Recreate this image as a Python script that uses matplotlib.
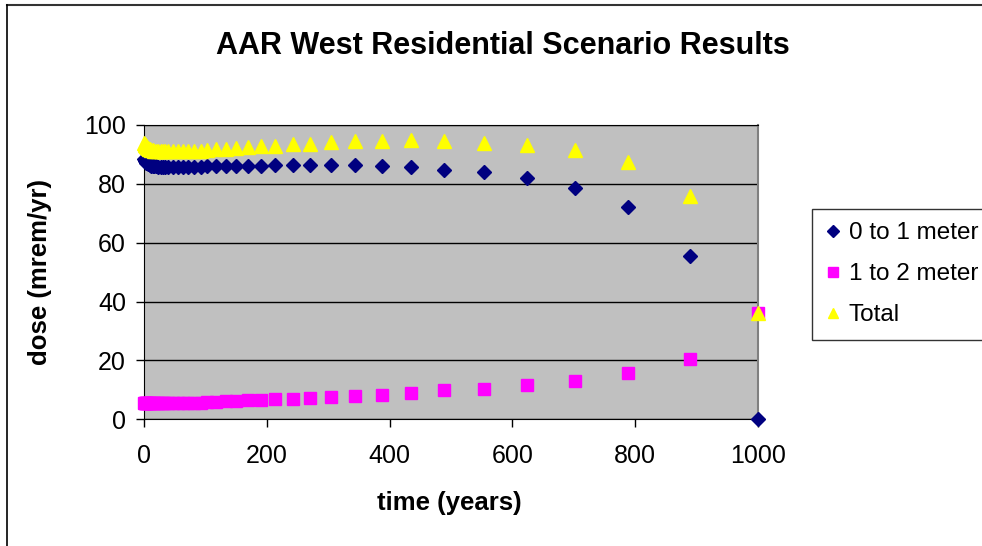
import matplotlib
matplotlib.use("Agg")
import matplotlib.pyplot as plt
from matplotlib.lines import Line2D

# time points (years)
years = [0, 1, 2, 3, 4, 5, 6, 8, 10, 12, 14, 17, 20, 23, 27, 31, 35, 39, 47, 55,
         63, 72, 82, 93, 103, 117, 133, 150, 169, 191, 213, 242, 270, 304, 344,
         387, 435, 489, 554, 624, 702, 788, 889, 1000]

# dose (mrem/yr) per depth layer
dose_0_1 = [88.3, 88.0, 87.7, 87.4, 87.2, 87.0, 86.8, 86.6, 86.4, 86.2, 86.1, 86.0,
            85.9, 85.8, 85.8, 85.8, 85.8, 85.8, 85.8, 85.8, 85.8, 85.8, 85.8, 85.8,
            85.9, 85.9, 86.0, 86.0, 86.1, 86.2, 86.3, 86.4, 86.5, 86.5, 86.4,
            86.1, 85.8, 84.7, 84.0, 82.0, 78.6, 72.0, 55.4, 0.0]
dose_1_2 = [5.4, 5.4, 5.4, 5.4, 5.4, 5.4, 5.4, 5.4, 5.4, 5.4, 5.4, 5.4, 5.4, 5.4,
            5.4, 5.4, 5.5, 5.5, 5.5, 5.5, 5.5, 5.6, 5.6, 5.7, 5.8, 6.0, 6.1, 6.2,
            6.4, 6.5, 6.8, 7.0, 7.3, 7.6, 8.0, 8.4, 9.0, 9.8, 10.4, 11.7, 13.0,
            15.7, 20.4, 36.2]
dose_total = [93.8, 93.5, 93.2, 92.9, 92.7, 92.5, 92.3, 92.0, 91.8, 91.6, 91.4, 91.3,
              91.2, 91.1, 91.0, 91.0, 91.0, 91.0, 91.0, 91.0, 91.0, 91.1, 91.2, 91.3,
              91.6, 91.8, 92.0, 92.2, 92.5, 92.7, 93.0, 93.4, 93.7, 94.1, 94.4,
              94.6, 94.8, 94.5, 94.0, 93.3, 91.4, 87.4, 75.9, 36.2]

plt.rcParams['font.family'] = ['Liberation Sans', 'DejaVu Sans']

fig = plt.figure(figsize=(9.82, 5.46), dpi=100)
ax = fig.add_axes([0.1466, 0.232, 0.6253, 0.5391])
ax.set_facecolor('#C0C0C0')

ax.plot(years, dose_0_1, linestyle='none', marker='D', markersize=7.5,
        color='#000080', label='0 to 1 meter', zorder=3, clip_on=False)
ax.plot(years, dose_1_2, linestyle='none', marker='s', markersize=9,
        color='#FF00FF', label='1 to 2 meter', zorder=3, clip_on=False)
ax.plot(years, dose_total, linestyle='none', marker='^', markersize=10,
        color='#FFFF00', label='Total', zorder=3, clip_on=False)

ax.set_xlim(0, 1000)
ax.set_ylim(0, 100)
ax.set_xticks([0, 200, 400, 600, 800, 1000])
ax.set_yticks([0, 20, 40, 60, 80, 100])
ax.yaxis.grid(True, color='#000000', linewidth=1.0)
ax.set_axisbelow(True)
ax.tick_params(labelsize=18, length=6, width=1, color='#000000')
ax.tick_params(axis='x', pad=12)
ax.tick_params(axis='y', pad=7)
for side in ['left', 'bottom']:
    ax.spines[side].set_color('#000000')
ax.spines['top'].set_color('#000000')
ax.spines['right'].set_color('#808080')
ax.spines['right'].set_linewidth(1.5)

fig.text(0.512, 0.916, 'AAR West Residential Scenario Results', ha='center',
         va='center', fontsize=22, fontweight='bold')
fig.text(0.041, 0.502, 'dose (mrem/yr)', ha='center', va='center',
         rotation=90, fontsize=18.5, fontweight='bold')
fig.text(0.458, 0.079, 'time (years)', ha='center', va='center',
         fontsize=18.5, fontweight='bold')

leg = fig.legend(loc='upper left', bbox_to_anchor=(0.827, 0.617), fontsize=17.5,
                 frameon=True, fancybox=False, markerscale=0.75, handlelength=0.6,
                 handletextpad=0.35, borderpad=0.55, labelspacing=0.78,
                 borderaxespad=0)
leg.get_frame().set_edgecolor('#000000')
leg.get_frame().set_linewidth(1.0)

# outer chart border (top and left visible)
fig.add_artist(Line2D([0.007, 1.0], [0.991, 0.991], color='#333333', linewidth=1.5))
fig.add_artist(Line2D([0.007, 0.007], [0.0, 0.991], color='#000000', linewidth=1.2))

fig.savefig('out.png', dpi=100)
